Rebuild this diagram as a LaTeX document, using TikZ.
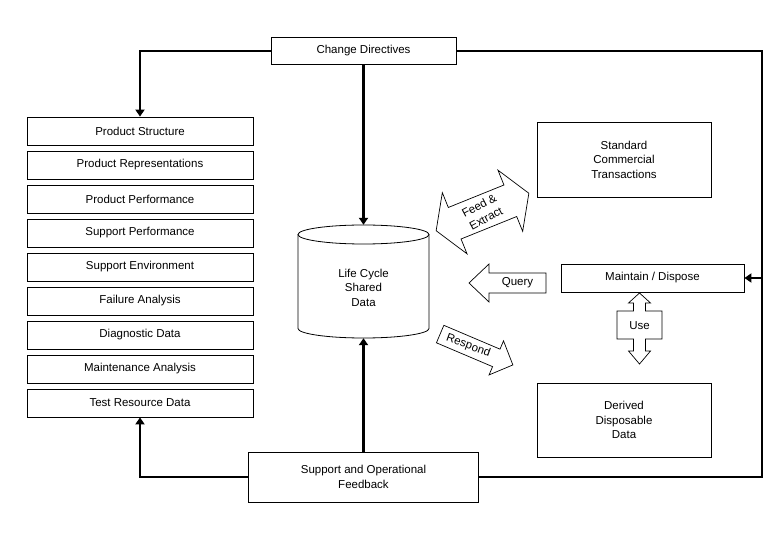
\documentclass[tikz,border=0pt]{standalone}
\usepackage{fontspec}
\setmainfont{Liberation Sans}
\usetikzlibrary{arrows.meta}

\begin{document}
\begin{tikzpicture}[x=1pt, y=-1pt,
  every node/.style={font=\fontsize{11.5}{14.5}\selectfont, align=center, inner sep=0pt},
  box/.style={draw, line width=0.8pt},
  listbox/.style={box, minimum width=226pt, minimum height=28pt},
  flow/.style={line width=2.6pt},
  flowarrow/.style={flow, -{Triangle[length=7pt, width=9pt]}},
  fatarrow/.style={draw, line width=0.7pt, line join=miter}]
  \useasboundingbox (0,0) rectangle (780,540);

  \foreach \i/\t in {0/Product Structure, 1/Product Representations, 2/Product Performance,
    3/Support Performance, 4/Support Environment, 5/Failure Analysis, 6/Diagnostic Data,
    7/Maintenance Analysis, 8/Test Resource Data}{
    \node[listbox] (pl\i) at (140, {131+34*\i}) {\t};
  }

  \node[box, minimum width=185pt, minimum height=27pt] (cd) at (363.5,51) {Change Directives};
  \node[box, minimum width=230pt, minimum height=50pt] (sof) at (363.5,477) {Support and Operational\\Feedback};
  \node[box, minimum width=174pt, minimum height=75pt] (sct) at (624,159.5) {Standard\\Commercial\\Transactions};
  \node[box, minimum width=183pt, minimum height=28pt] (md) at (652.5,278) {Maintain / Dispose};
  \node[box, minimum width=174pt, minimum height=74pt] (ddd) at (624,420) {Derived\\Disposable\\Data};

  % shared data store
  \node[minimum width=131pt, minimum height=113pt] (lcsd) at (363.5,281.5) {};
  \node (lcsdtext) at (363.5,287.5) {Life Cycle\\Shared\\Data};
  \draw[line width=0.8pt] (298,234.5) -- (298,328.5)
    arc[start angle=180, end angle=360, x radius=65.5pt, y radius=9.5pt] -- (429,234.5);
  \draw[line width=0.8pt] (363.5,234.5) ellipse [x radius=65.5pt, y radius=9.5pt];

  \draw[flowarrow] (cd.south) -- (lcsd.north);
  \draw[flowarrow] (sof.north) -- (lcsd.south);
  \draw[flowarrow] (cd.west) -| (pl0.north);
  \draw[flowarrow] (sof.west) -| (pl8.south);
  \coordinate (loop) at (762,0);
  \draw[flow] (cd.east) -- (cd.east -| loop) -- (sof.east -| loop) -- (sof.east);
  \draw[flowarrow] (md.east -| loop) -- (md.east);

  % feed and extract
  \begin{scope}[shift={(482.5,212)}, rotate=22]
    \draw[fatarrow] (-50,0) -- (-30,-33) -- (-30,-17) -- (30,-17) -- (30,-33) -- (50,0)
      -- (30,33) -- (30,17) -- (-30,17) -- (-30,33) -- cycle;
    \node[rotate=28] (fe) at (0,0) {Feed \&\\Extract};
  \end{scope}

  % query
  \begin{scope}[shift={(507.5,283)}]
    \draw[fatarrow] (-38.5,0) -- (-18.5,-19) -- (-18.5,-10) -- (38.5,-10) -- (38.5,10)
      -- (-18.5,10) -- (-18.5,19) -- cycle;
    \node (qy) at (10,0) {Query};
  \end{scope}

  % respond
  \begin{scope}[shift={(476.5,349.5)}, rotate=-23]
    \draw[fatarrow] (-39.5,-9.5) -- (21.5,-9.5) -- (21.5,-18.5) -- (39.5,0) -- (21.5,18.5)
      -- (21.5,9.5) -- (-39.5,9.5) -- cycle;
    \node[rotate=-20] (rp) at (-9,0) {Respond};
  \end{scope}

  % use
  \draw[fatarrow] (639.5,293) -- (650.5,303) -- (645.5,303) -- (645.5,311) -- (662,311)
    -- (662,339) -- (645.5,339) -- (645.5,351) -- (650.5,351) -- (639.5,364) -- (628.5,351)
    -- (633.5,351) -- (633.5,339) -- (617,339) -- (617,311) -- (633.5,311) -- (633.5,303)
    -- (628.5,303) -- cycle;
  \node (us) at (639.5,326) {Use};
\end{tikzpicture}
\end{document}
